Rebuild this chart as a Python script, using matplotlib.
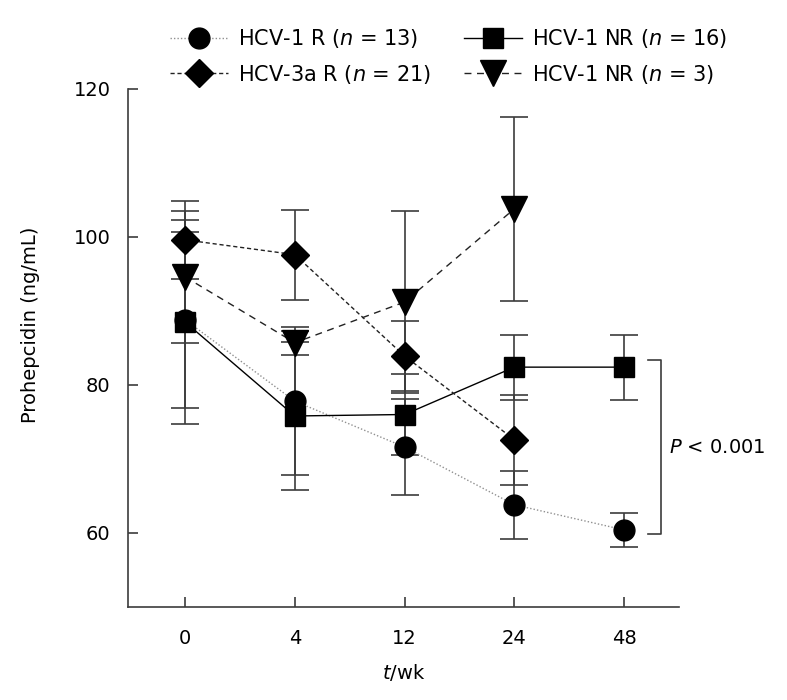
import numpy as np
import matplotlib.pyplot as plt

plt.rcParams['font.family'] = ['DejaVu Sans']
plt.rcParams['mathtext.fontset'] = 'dejavusans'

weeks = ['0', '4', '12', '24', '48']

r1_mean = [88.8, 77.8, 71.6, 63.8, 60.4]
r1_err = [11.9, 10.0, 6.5, 4.6, 2.3]

nr1_mean = [88.5, 75.8, 76.0, 82.4, 82.4]
nr1_err = [13.8, 10.0, 5.5, 4.4, 4.4]

r3a_mean = [99.6, 97.6, 83.9, 72.6]
r3a_err = [5.3, 6.1, 4.7, 6.1]

nr3_mean = [94.6, 85.7, 91.2, 103.8]
nr3_err = [8.9, 1.6, 12.3, 12.4]

x = np.arange(len(weeks))
ecol = '#3c3c3c'

fig = plt.figure(figsize=(7.87, 7.0), dpi=100)
ax = fig.add_axes([0.1626, 0.133, 0.7002, 0.740])

eb = dict(fmt='none', ecolor=ecol, elinewidth=1.2, capsize=10, capthick=1.2, zorder=1)
ax.errorbar(x, r1_mean, yerr=r1_err, **eb)
ax.errorbar(x, nr1_mean, yerr=nr1_err, **eb)
ax.errorbar(x[:4], r3a_mean, yerr=r3a_err, **eb)
ax.errorbar(x[:4], nr3_mean, yerr=nr3_err, **eb)

h1, = ax.plot(x, r1_mean, color='#909090', marker='o', ms=15, ls=(0, (1, 1.5)), lw=1,
              mfc='black', mec='black', label='HCV-1 R ($n$ = 13)', zorder=3)
h2, = ax.plot(x, nr1_mean, color='black', marker='s', ms=15, ls='-', lw=1,
              label='HCV-1 NR ($n$ = 16)', zorder=4)
h3, = ax.plot(x[:4], r3a_mean, color='#222222', marker='D', ms=14, ls=(0, (3, 2)), lw=1,
              mfc='black', mec='black', label='HCV-3a R ($n$ = 21)', zorder=5)
h4, = ax.plot(x[:4], nr3_mean, color='#222222', marker='v', ms=19, ls=(0, (5, 4)), lw=1,
              mfc='black', mec='black', label='HCV-1 NR ($n$ = 3)', zorder=6)

# significance bracket
ax.plot([4.22, 4.34, 4.34, 4.22], [83.3, 83.3, 59.8, 59.8], color=ecol, lw=1.2,
        clip_on=False)
ax.text(4.41, 71.5, '$P$ < 0.001', fontsize=14, va='center', ha='left')

ax.set_xlim(-0.52, 4.5)
ax.set_ylim(50, 120)
ax.set_xticks(x)
ax.set_xticklabels(weeks)
ax.set_yticks([60, 80, 100, 120])
for s in ['top', 'right']:
    ax.spines[s].set_visible(False)
for s in ['left', 'bottom']:
    ax.spines[s].set_color(ecol)
    ax.spines[s].set_linewidth(1.2)
ax.tick_params(axis='both', direction='in', length=7, width=1.2, color=ecol,
               labelsize=14)
ax.tick_params(axis='x', pad=16)
ax.tick_params(axis='y', pad=12.5)
ax.set_xlabel('$t$/wk', fontsize=14, labelpad=10)
ax.set_ylabel('Prohepcidin (ng/mL)', fontsize=14)
ax.yaxis.set_label_coords(-0.160, 0.545)

fig.legend(handles=[h1, h3, h2, h4], ncol=2, loc='upper center',
           bbox_to_anchor=(0.57, 0.988), frameon=False, fontsize=15,
           handlelength=2.8, columnspacing=1.55, labelspacing=0.6, handletextpad=0.5)

fig.savefig('out.png', dpi=100)
